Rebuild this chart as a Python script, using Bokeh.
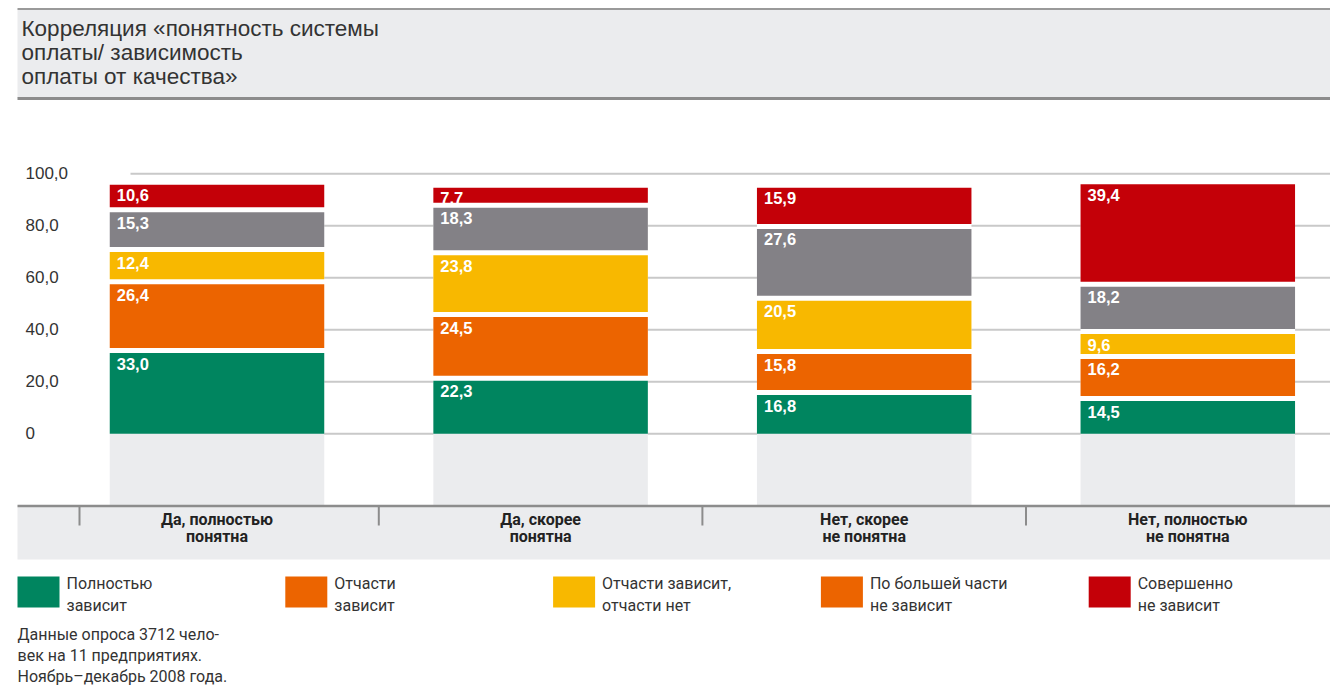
from bokeh.plotting import figure
from bokeh.models import Range1d, ColumnDataSource
from bokeh.core.properties import value
from bokeh.embed import file_html
from bokeh.resources import INLINE

# ---------------- data ----------------
categories = ["Да, полностью\nпонятна", "Да, скорее\nпонятна",
              "Нет, скорее\nне понятна", "Нет, полностью\nне понятна"]
series_names = ["Полностью\nзависит", "Отчасти\nзависит", "Отчасти зависит,\nотчасти нет",
                "По большей части\nне зависит", "Совершенно\nне зависит"]
full_dep = [33.0, 22.3, 16.8, 14.5]
partly_dep = [26.4, 24.5, 15.8, 16.2]
half_dep = [12.4, 23.8, 20.5, 9.6]
mostly_not = [15.3, 18.3, 27.6, 18.2]
not_at_all = [10.6, 7.7, 15.9, 39.4]
y_ticks = [0, 20, 40, 60, 80, 100]
y_tick_labels = ["0", "20,0", "40,0", "60,0", "80,0", "100,0"]
title_text = "Корреляция «понятность системы\nоплаты/ зависимость\nоплаты от качества»"
note_text = "Данные опроса 3712 чело-\nвек на 11 предприятиях.\nНоябрь–декабрь 2008 года."

series = [full_dep, partly_dep, half_dep, mostly_not, not_at_all]
colors = ["#00855f", "#ec6400", "#f8b800", "#838186", "#c40008"]
legend_colors = ["#00855f", "#ec6400", "#f8b800", "#ec6400", "#c40008"]

# ---------------- layout helpers (pixel -> data) ----------------
W, H = 1330, 688
X0, DX = 216.5, 323.6
Y0, SY = 433.3, 2.6
TS = -7  # text baseline correction in px


def xd(px):
    return (px - X0) / DX


def yd(py):
    return (Y0 - py) / SY


BW = 214.5 / DX
GAP = 5.0 / SY
LIGHT = "#ebecee"
DARK = "#8c8c8c"
TXT = "#333333"
SANS = value("Liberation Sans")
NARROW = value("Roboto")

p = figure(width=W, height=H, x_range=Range1d(xd(0), xd(W)), y_range=Range1d(yd(H), yd(0)),
           output_backend="svg", toolbar_location=None, min_border=0,
           x_axis_type=None, y_axis_type=None, outline_line_color=None,
           background_fill_color="white", border_fill_color="white")
p.grid.visible = False

# ---------------- title block ----------------
p.quad(left=[xd(17)], right=[xd(W)], top=[yd(9)], bottom=[yd(98)], fill_color=LIGHT, line_color=None)
p.segment(x0=[xd(17)], x1=[xd(W)], y0=[yd(8.5)], y1=[yd(8.5)], line_color="#9a9a9a", line_width=2)
p.segment(x0=[xd(17)], x1=[xd(W)], y0=[yd(98)], y1=[yd(98)], line_color=DARK, line_width=3)
tl = title_text.split("\n")
p.text(x=[xd(21)] * len(tl), y=[yd(35 + TS)] * len(tl), text=tl, y_offset=[24 * i for i in range(len(tl))],
       text_font=SANS, text_font_size="22.5px", text_color=TXT, text_baseline="alphabetic")

# ---------------- grid ----------------
p.segment(x0=[xd(130)] * len(y_ticks), x1=[xd(W)] * len(y_ticks), y0=y_ticks, y1=y_ticks,
          line_color="#c9c9c9", line_width=2)
p.text(x=[xd(25)] * len(y_ticks), y=y_ticks, text=y_tick_labels, y_offset=6 + TS,
       text_font=SANS, text_font_size="17px", text_color=TXT, text_baseline="alphabetic")

idx = list(range(len(categories)))
totals = [sum(s[i] for s in series) for i in idx]

# white columns behind stacks, grey extension below zero
p.vbar(x=idx, width=BW, bottom=0, top=[t - GAP for t in totals], fill_color="white", line_color=None)
p.vbar(x=idx, width=BW, top=0, bottom=yd(505), fill_color=LIGHT, line_color=None)

# ---------------- stacked bars ----------------
cum = [0.0] * len(idx)
for vals, col in zip(series, colors):
    bottoms = cum[:]
    tops = [c + v - GAP for c, v in zip(cum, vals)]
    src = ColumnDataSource(dict(x=idx, bottom=bottoms, top=tops,
                                lx=[i - BW / 2 for i in idx],
                                lab=[f"{v:.1f}".replace(".", ",") for v in vals]))
    p.vbar(x="x", width=BW, bottom="bottom", top="top", source=src, fill_color=col, line_color=None)
    p.text(x="lx", y="top", text="lab", source=src, x_offset=7, y_offset=17.5 + TS,
           text_font=SANS, text_font_style="bold", text_font_size="16.5px", text_color="white",
           text_baseline="alphabetic")
    cum = [c + v for c, v in zip(cum, vals)]

# ---------------- category band ----------------
p.quad(left=[xd(17)], right=[xd(W)], top=[yd(506.5)], bottom=[yd(559)], fill_color=LIGHT, line_color=None)
p.segment(x0=[xd(17)], x1=[xd(W)], y0=[yd(505.5)], y1=[yd(505.5)], line_color=DARK, line_width=2.5)
tick_x = [xd(79)] + [i + 0.5 for i in idx[:-1]]
p.segment(x0=tick_x, x1=tick_x, y0=[yd(506)] * len(tick_x), y1=[yd(525)] * len(tick_x),
          line_color=DARK, line_width=2)
cx, cy, ct, co = [], [], [], []
for i, c in zip(idx, categories):
    for j, line in enumerate(c.split("\n")):
        cx.append(i)
        cy.append(yd(526 + TS))
        ct.append(line)
        co.append(17 * j)
p.text(x=cx, y=cy, text=ct, y_offset=co, text_font=NARROW, text_font_style="bold",
       text_font_size="16px", text_color="#222222", text_align="center", text_baseline="alphabetic")

# ---------------- legend ----------------
LX0, LSTEP = 17, 267.8
sx = [LX0 + LSTEP * k for k in range(len(series_names))]
p.quad(left=[xd(s) for s in sx], right=[xd(s + 42) for s in sx], top=[yd(576)] * len(sx),
       bottom=[yd(607)] * len(sx), fill_color=legend_colors, line_color=None)
lx, ly, lt, lo = [], [], [], []
for s, name in zip(sx, series_names):
    for j, line in enumerate(name.split("\n")):
        lx.append(xd(s + 49))
        ly.append(yd(590 + TS))
        lt.append(line)
        lo.append(22 * j)
p.text(x=lx, y=ly, text=lt, y_offset=lo, text_font=NARROW, text_font_size="16px",
       text_color=TXT, text_baseline="alphabetic")

# ---------------- footnote ----------------
nl = note_text.split("\n")
p.text(x=[xd(17)] * len(nl), y=[yd(641 + TS)] * len(nl), text=nl, y_offset=[21 * i for i in range(len(nl))],
       text_font=NARROW, text_font_size="16px", text_color=TXT, text_baseline="alphabetic")

open("out.html", "w").write(file_html(p, INLINE))
